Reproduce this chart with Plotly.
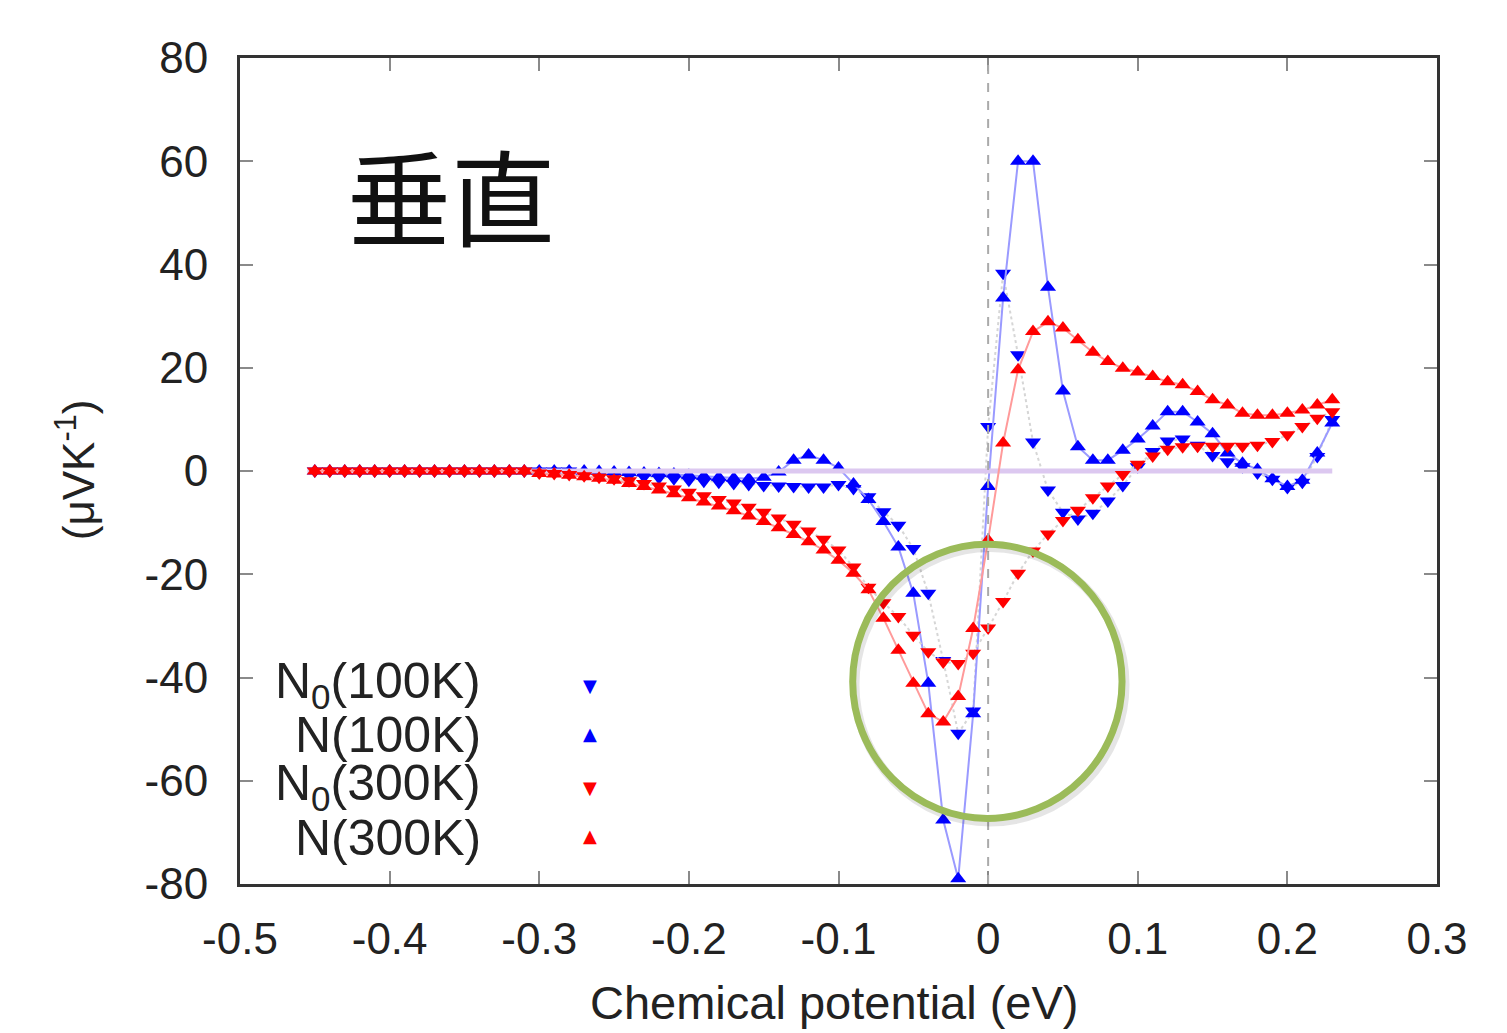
import plotly.graph_objects as go

# chemical potential (eV)
x = [-0.45, -0.44, -0.43, -0.42, -0.41, -0.40, -0.39, -0.38, -0.37, -0.36,
     -0.35, -0.34, -0.33, -0.32, -0.31, -0.30, -0.29, -0.28, -0.27, -0.26,
     -0.25, -0.24, -0.23, -0.22, -0.21, -0.20, -0.19, -0.18, -0.17, -0.16,
     -0.15, -0.14, -0.13, -0.12, -0.11, -0.10, -0.09, -0.08, -0.07, -0.06,
     -0.05, -0.04, -0.03, -0.02, -0.01, 0.00, 0.01, 0.02, 0.03, 0.04,
     0.05, 0.06, 0.07, 0.08, 0.09, 0.10, 0.11, 0.12, 0.13, 0.14,
     0.15, 0.16, 0.17, 0.18, 0.19, 0.20, 0.21, 0.22, 0.23]

# N0(100K)  (down triangles, blue)
n0_100 = [0, 0, 0, 0, 0, 0, 0, 0, 0, 0,
          0, 0, 0, 0, 0, 0, 0, 0, -0.3, -0.5,
          -0.7, -0.9, -1.1, -1.3, -1.5, -1.8, -2.0, -2.2, -2.4, -2.6,
          -2.8, -2.9, -3.0, -3.1, -3.1, -2.6, -3.4, -5.0, -7.9, -10.5,
          -15.0, -23.7, -36.7, -50.8, -46.5, 8.6, 38.3, 22.5, 5.6, -3.7,
          -8.0, -9.3, -8.2, -5.8, -2.8, 0.8, 3.8, 5.8, 6.2, 5.0,
          3.0, 1.8, 0.8, -0.4, -1.6, -3.2, -2.2, 2.8, 10.0]

# N(100K)  (up triangles, blue)
n_100 = [0, 0, 0, 0, 0, 0, 0, 0, 0, 0,
         0, 0, 0, 0, 0, 0, 0, 0, 0, -0.1,
         -0.2, -0.3, -0.4, -0.5, -0.6, -0.8, -1.0, -1.2, -1.4, -1.5,
         -1.2, -0.2, 2.1, 3.1, 2.1, 0.6, -2.5, -5.5, -9.8, -14.7,
         -23.7, -41.1, -67.6, -79.0, -47.0, -3.0, 33.5, 60.0, 60.0, 35.6,
         15.5, 4.7, 2.1, 2.1, 4.0, 6.2, 8.7, 11.5, 11.5, 9.5,
         7.2, 3.5, 1.5, 0.3, -1.5, -3.0, -1.8, 3.5, 9.3]

# N0(300K)  (down triangles, red)
n0_300 = [0, 0, 0, 0, 0, 0, 0, 0, 0, 0,
          0, 0, 0, 0, 0, -0.4, -0.5, -0.7, -0.9, -1.2,
          -1.5, -1.9, -2.4, -2.9, -3.5, -4.1, -4.8, -5.5, -6.2, -7.0,
          -8.0, -9.1, -10.3, -11.6, -13.2, -15.3, -18.6, -22.5, -25.5, -28.2,
          -31.8, -35.0, -37.0, -37.3, -35.3, -30.4, -25.3, -19.8, -15.5, -12.2,
          -9.6, -7.6, -5.2, -2.9, -0.7, 1.3, 2.9, 4.2, 4.7, 4.8,
          4.8, 4.8, 4.8, 5.0, 5.7, 7.0, 8.6, 10.2, 11.5]

# N(300K)  (up triangles, red)
n_300 = [0, 0, 0, 0, 0, 0, 0, 0, 0, 0,
         0, 0, 0, 0, 0, -0.5, -0.6, -0.8, -1.1, -1.4,
         -1.8, -2.4, -3.0, -3.7, -4.4, -5.2, -6.0, -6.8, -7.7, -8.7,
         -9.8, -11.0, -12.3, -13.7, -15.3, -17.3, -19.8, -23.0, -28.5, -34.7,
         -41.1, -47.0, -48.6, -43.7, -30.5, -13.4, 5.4, 19.6, 27.0, 28.9,
         27.7, 25.4, 23.0, 21.2, 19.9, 19.2, 18.3, 17.3, 16.7, 15.4,
         13.8, 12.8, 11.2, 10.8, 10.8, 11.2, 11.8, 12.8, 13.8]

# zero reference line
zero_x = [-0.455, 0.23]
zero_y = [0, 0]

x_ticks = [-0.5, -0.4, -0.3, -0.2, -0.1, 0.0, 0.1, 0.2, 0.3]
x_ticktext = ["-0.5", "-0.4", "-0.3", "-0.2", "-0.1", "0", "0.1", "0.2", "0.3"]
y_ticks = [-80, -60, -40, -20, 0, 20, 40, 60, 80]
y_ticktext = ["-80", "-60", "-40", "-20", "0", "20", "40", "60", "80"]

x_title = "Chemical potential (eV)"
y_title = "(μVK<sup>-1</sup>)"

legend_labels = ["N<sub>0</sub>(100K)", "N(100K)", "N<sub>0</sub>(300K)", "N(300K)"]
legend_symbols = ["▼", "▲", "▼", "▲"]
legend_colors = ["#0000ff", "#0000ff", "#ff0000", "#ff0000"]

BLUE = "#0000ff"
RED = "#ff0000"
MS = 14

fig = go.Figure()

fig.add_trace(go.Scatter(x=x, y=n0_100, mode="lines+markers", name="N0(100K)",
                         line=dict(color="#d6d6d6", width=2, dash="dot"),
                         marker=dict(symbol="triangle-down", size=MS, color=BLUE)))
fig.add_trace(go.Scatter(x=x, y=n_100, mode="lines+markers", name="N(100K)",
                         line=dict(color="#9a9aff", width=2),
                         marker=dict(symbol="triangle-up", size=MS, color=BLUE)))
fig.add_trace(go.Scatter(x=zero_x, y=zero_y, mode="lines", name="zero",
                         line=dict(color="#dcc8f0", width=5)))
fig.add_trace(go.Scatter(x=x, y=n0_300, mode="lines+markers", name="N0(300K)",
                         line=dict(color="#d6d6d6", width=2, dash="dot"),
                         marker=dict(symbol="triangle-down", size=MS, color=RED)))
fig.add_trace(go.Scatter(x=x, y=n_300, mode="lines+markers", name="N(300K)",
                         line=dict(color="#ff9a9a", width=2),
                         marker=dict(symbol="triangle-up", size=MS, color=RED)))

FONT = "Liberation Sans, Arial, sans-serif"

axis_common = dict(showgrid=False, zeroline=False, ticks="inside", ticklen=13,
                   tickwidth=2, tickcolor="#8a8a8a", showline=True,
                   linecolor="#333333", linewidth=3, mirror="ticks",
                   automargin=False,
                   tickfont=dict(family=FONT, size=44, color="#222222"))

fig.update_layout(
    width=1507, height=1033,
    paper_bgcolor="white", plot_bgcolor="white",
    margin=dict(l=240, r=70, t=58, b=149),
    showlegend=False,
    xaxis=dict(range=[-0.5, 0.3], tickvals=x_ticks, ticktext=x_ticktext,
               ticklabelstandoff=14, **axis_common),
    yaxis=dict(range=[-80, 80], tickvals=y_ticks, ticktext=y_ticktext,
               ticklabelstandoff=20, **axis_common),
)

# axis titles
fig.add_annotation(text=x_title, xref="paper", yref="paper", x=0.497, y=-0.144,
                   showarrow=False, xanchor="center", yanchor="middle",
                   font=dict(family=FONT, size=47, color="#222222"))
fig.add_annotation(text=y_title, xref="paper", yref="paper", x=-0.1378, y=0.501,
                   showarrow=False, xanchor="center", yanchor="middle",
                   textangle=-90,
                   font=dict(family=FONT, size=44, color="#222222"))

# vertical dashed line at zero
fig.add_shape(type="line", xref="x", yref="y", x0=0, x1=0, y0=-80, y1=80,
              line=dict(color="#aaaaaa", width=2, dash="dash"), layer="above")

# highlight circle (with faint shadow)
fig.add_shape(type="circle", xref="x", yref="y", x0=-0.089, x1=0.0915,
              y0=-68.0, y1=-14.8, line=dict(color="rgba(0,0,0,0.10)", width=9),
              layer="above")
fig.add_shape(type="circle", xref="x", yref="y", x0=-0.0905, x1=0.0895,
              y0=-67.3, y1=-14.2, line=dict(color="#9bbb59", width=7),
              layer="above")

fig.add_annotation(text="垂直", xref="paper", yref="paper", x=0.176, y=0.836,
                   showarrow=False, xanchor="center", yanchor="middle",
                   font=dict(family="Noto Sans CJK JP", size=104, color="#111111"))

leg_text_y = [0.2410, 0.1804, 0.1186, 0.0557]
leg_sym_y = [0.2409, 0.1828, 0.1174, 0.0593]
for lab, sym, col, ty, sy in zip(legend_labels, legend_symbols, legend_colors,
                                 leg_text_y, leg_sym_y):
    fig.add_annotation(text=lab, xref="paper", yref="paper", x=0.203, y=ty,
                       showarrow=False, xanchor="right", yanchor="middle",
                       font=dict(family=FONT, size=50, color="#222222"))
    fig.add_annotation(text=sym, xref="paper", yref="paper", x=0.2924, y=sy,
                       showarrow=False, xanchor="center", yanchor="middle",
                       font=dict(family="DejaVu Sans", size=18, color=col))

# remove the default page margin so the figure fills the window exactly
fig.write_html("out.html", config={"displayModeBar": False},
               post_script="document.body.style.margin='0';")
